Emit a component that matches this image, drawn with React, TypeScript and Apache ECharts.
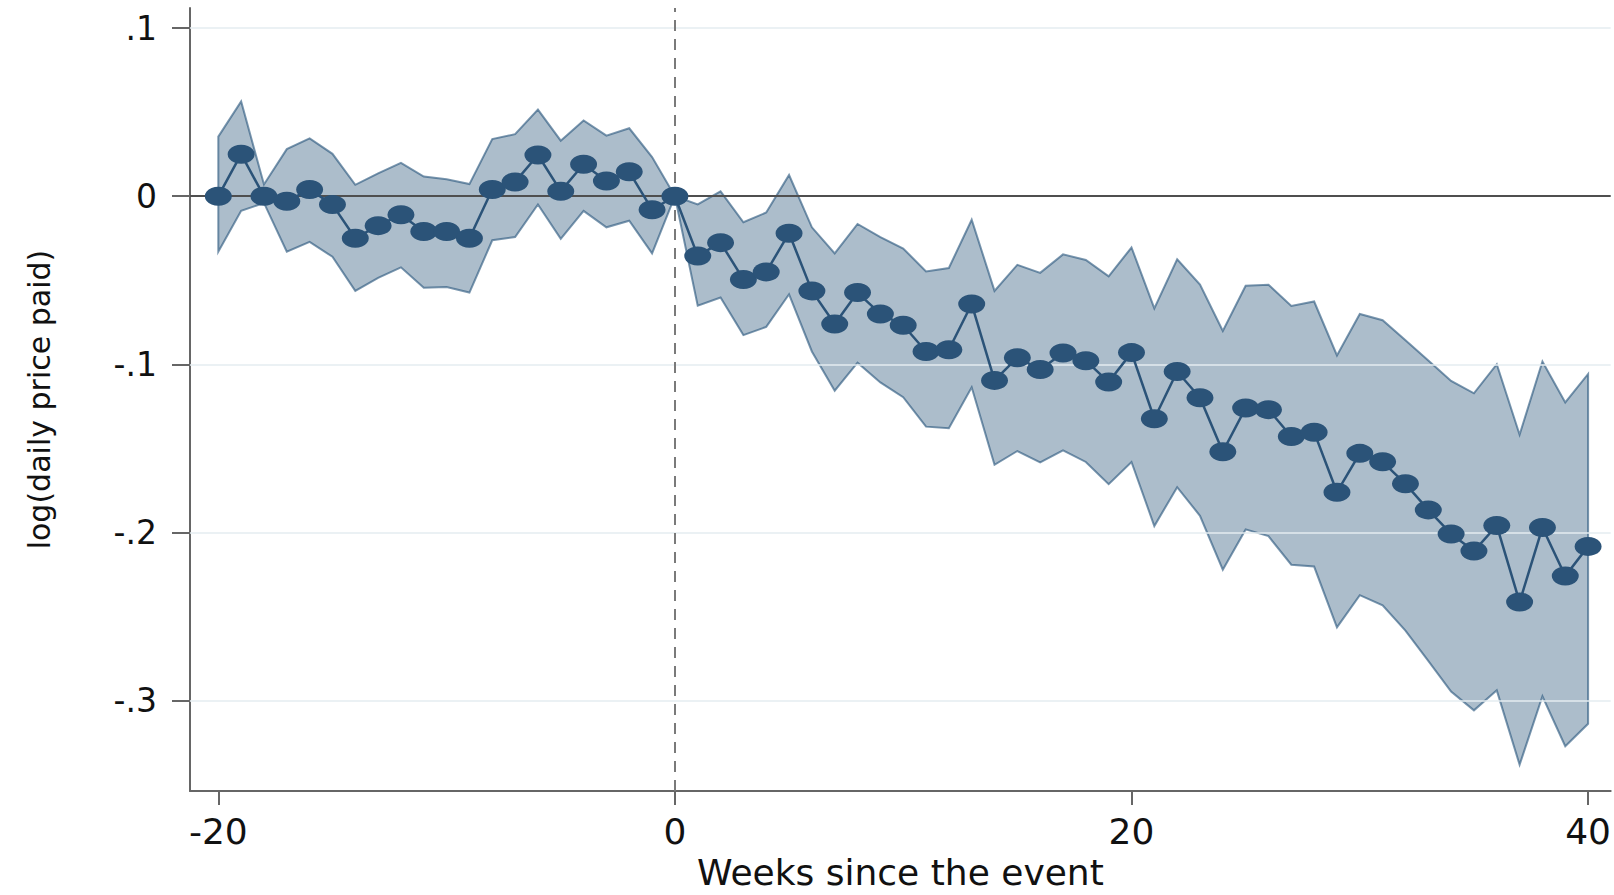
import React, { useEffect, useRef } from "react";
import * as echarts from "echarts";

const weeks = [
  -20, -19, -18, -17, -16, -15, -14, -13, -12, -11, -10, -9, -8, -7, -6, -5, -4, -3, -2, -1,
  0, 1, 2, 3, 4, 5, 6, 7, 8, 9, 10, 11, 12, 13, 14, 15, 16, 17, 18, 19,
  20, 21, 22, 23, 24, 25, 26, 27, 28, 29, 30, 31, 32, 33, 34, 35, 36, 37, 38, 39, 40,
];

const coef = [
  0, 0.025, 0, -0.003, 0.004, -0.005, -0.025, -0.0175, -0.011, -0.021,
  -0.021, -0.025, 0.004, 0.0085, 0.0245, 0.003, 0.019, 0.009, 0.0145, -0.008,
  0, -0.0355, -0.0276, -0.0495, -0.045, -0.022, -0.0563, -0.076, -0.0573, -0.07,
  -0.0767, -0.0923, -0.0913, -0.0641, -0.1095, -0.096, -0.103, -0.0932, -0.0978, -0.1105,
  -0.093, -0.1323, -0.1042, -0.1198, -0.1519, -0.1259, -0.1269, -0.1429, -0.1403, -0.176,
  -0.1529, -0.1579, -0.171, -0.1865, -0.2008, -0.211, -0.1958, -0.2413, -0.197, -0.2258,
  -0.2082,
];

const ciUpper = [
  0.0354, 0.0563, 0.007, 0.028, 0.0344, 0.0252, 0.0068, 0.0136, 0.0198, 0.0117,
  0.0101, 0.0072, 0.034, 0.0369, 0.0515, 0.033, 0.045, 0.036, 0.0404, 0.0233,
  0, -0.0049, 0.0029, -0.0155, -0.0097, 0.0126, -0.0185, -0.034, -0.0165, -0.0243,
  -0.0311, -0.0447, -0.0427, -0.014, -0.0563, -0.0408, -0.0456, -0.0346, -0.0379, -0.0476,
  -0.0305, -0.0667, -0.0375, -0.0526, -0.0801, -0.0532, -0.0526, -0.0653, -0.0626, -0.0947,
  -0.07, -0.0737, -0.0857, -0.0977, -0.1098, -0.1172, -0.0999, -0.1418, -0.0983, -0.1226,
  -0.1057,
];

const ciLower = [
  -0.033, -0.0087, -0.004, -0.033, -0.0272, -0.036, -0.0563, -0.0486, -0.0423, -0.0544,
  -0.054, -0.0573, -0.0262, -0.0243, -0.0049, -0.0253, -0.0087, -0.0185, -0.0146, -0.034,
  0, -0.0651, -0.0602, -0.0826, -0.0777, -0.0583, -0.0923, -0.1156, -0.099, -0.1107,
  -0.1195, -0.137, -0.138, -0.1136, -0.1597, -0.1515, -0.1583, -0.1511, -0.158, -0.1712,
  -0.158, -0.1961, -0.173, -0.19, -0.2221, -0.1981, -0.2021, -0.2191, -0.2202, -0.2563,
  -0.2372, -0.2432, -0.2583, -0.2763, -0.2945, -0.3057, -0.2938, -0.338, -0.2973, -0.327,
  -0.3137,
];

const xTicks = [-20, 0, 20, 40];
const yTicks = [0.1, 0, -0.1, -0.2, -0.3];
const yTickLabels = [".1", "0", "-.1", "-.2", "-.3"];
const xTitle = "Weeks since the event";
const yTitle = "log(daily price paid)";

export default function App() {
  const ref = useRef<HTMLDivElement>(null);

  useEffect(() => {
    if (!ref.current) return;
    const chart = echarts.init(ref.current, null, { renderer: "svg" });
    const font = "'DejaVu Sans', 'Liberation Sans', sans-serif";
    const axisColor = "#666666";
    const navy = "#2b5378";

    chart.setOption({
      animation: false,
      backgroundColor: "#ffffff",
      grid: { left: 190, right: 0, top: 8, bottom: 88, containLabel: false },
      xAxis: {
        type: "value",
        min: -21.24,
        max: 40.99,
        name: xTitle,
        nameLocation: "middle",
        nameGap: 52,
        nameTextStyle: { fontSize: 36, color: "#111", fontFamily: font },
        axisLine: { show: true, onZero: false, lineStyle: { color: axisColor, width: 2 } },
        axisTick: { show: true, length: 14, customValues: xTicks, lineStyle: { color: axisColor, width: 2 } },
        axisLabel: { customValues: xTicks, fontSize: 36, color: "#111", margin: 22, fontFamily: font },
        splitLine: { show: false },
      },
      yAxis: {
        type: "value",
        min: -0.3537,
        max: 0.1119,
        name: yTitle,
        nameLocation: "middle",
        nameGap: 136,
        nameTextStyle: { fontSize: 30, color: "#111", fontFamily: font },
        axisLine: { show: true, onZero: false, lineStyle: { color: axisColor, width: 2 } },
        axisTick: { show: true, length: 18, customValues: yTicks, lineStyle: { color: axisColor, width: 2 } },
        axisLabel: {
          customValues: yTicks,
          fontSize: 33,
          color: "#111",
          margin: 33,
          fontFamily: font,
          formatter: (v: number) => {
            const i = yTicks.findIndex((t) => Math.abs(t - v) < 1e-6);
            return i >= 0 ? yTickLabels[i] : "";
          },
        },
        splitLine: { show: false },
      },
      series: [
        {
          type: "line",
          name: "gridlines",
          data: [],
          z: 0,
          silent: true,
          markLine: {
            silent: true,
            symbol: "none",
            label: { show: false },
            lineStyle: { color: "#e4edf0", width: 1.5, type: "solid" },
            data: yTicks.map((v) => ({ yAxis: v })),
          },
        },
        {
          type: "custom",
          name: "95% CI",
          z: 2,
          silent: true,
          data: [[0, 0]],
          encode: { x: 0, y: 1 },
          renderItem: (params: any, api: any) => {
            const pts: number[][] = [];
            for (let i = 0; i < weeks.length; i++) pts.push(api.coord([weeks[i], ciUpper[i]]));
            for (let i = weeks.length - 1; i >= 0; i--) pts.push(api.coord([weeks[i], ciLower[i]]));
            return {
              type: "polygon",
              shape: { points: pts },
              style: {
                fill: "rgba(26,71,111,0.36)",
                stroke: "rgba(40,85,125,0.62)",
                lineWidth: 2,
              },
            };
          },
        },
        {
          type: "line",
          name: "reference lines",
          data: [],
          z: 3,
          silent: true,
          markLine: {
            silent: true,
            symbol: "none",
            label: { show: false },
            data: [
              { yAxis: 0, lineStyle: { color: "#4f4f4f", width: 2, type: "solid" } },
              { xAxis: 0, lineStyle: { color: "#7a7a7a", width: 2, type: [11, 8] } },
            ],
          },
        },
        {
          type: "line",
          name: "coefficient",
          z: 10,
          data: weeks.map((w, i) => [w, coef[i]]),
          symbol: "circle",
          symbolSize: [27, 19],
          showSymbol: true,
          lineStyle: { color: navy, width: 2.5 },
          itemStyle: { color: navy },
        },
      ],
    });

    return () => chart.dispose();
  }, []);

  return (
    <div
      ref={ref}
      style={{ position: "fixed", left: 0, top: 0, width: 1614, height: 895, background: "#fff" }}
    />
  );
}
